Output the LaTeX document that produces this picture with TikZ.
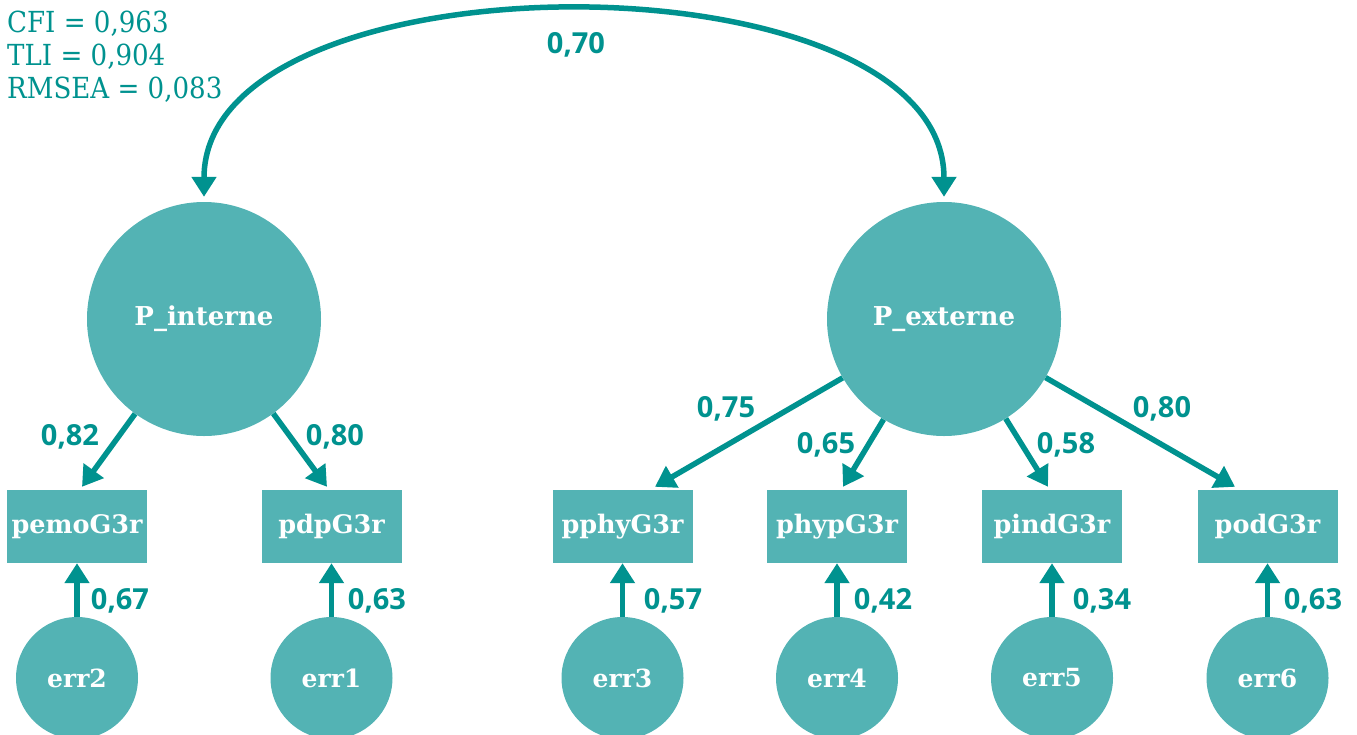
\documentclass[tikz,border=0pt]{standalone}
\usepackage{fontspec}
\setmainfont{DejaVu Serif}
\newfontfamily\numfont{Open Sans}
\newfontfamily\fitfont{DejaVu Serif Condensed}
\usetikzlibrary{arrows.meta}
\definecolor{fillc}{HTML}{53B3B4}
\definecolor{darkc}{HTML}{00928F}
\begin{document}
\begin{tikzpicture}[x=1pt,y=-1pt,
  latent/.style={circle,fill=fillc,minimum size=234pt,inner sep=0pt,text=white,font=\bfseries\fontsize{26}{30}\selectfont},
  errc/.style={circle,fill=fillc,minimum size=122pt,inner sep=0pt,text=white,font=\bfseries\fontsize{25}{30}\selectfont},
  obs/.style={rectangle,fill=fillc,minimum width=140pt,minimum height=73pt,inner sep=0pt,text=white,font=\bfseries\fontsize{25.5}{30}\selectfont},
  arr/.style={draw=darkc,line width=5.5pt,-{Triangle[length=20pt,width=24pt]}},
  darr/.style={draw=darkc,line width=5.5pt,{Triangle[length=20pt,width=24pt]}-{Triangle[length=20pt,width=24pt]}},
  lab/.style={text=darkc,anchor=base,inner sep=0pt,font=\numfont\bfseries\fontsize{29}{30}\selectfont},
  fit/.style={text=darkc,anchor=base west,inner sep=0pt,font=\fitfont\fontsize{29}{30}\selectfont}
]
\useasboundingbox (0,0) rectangle (1357,734);

% fit indices
\node[fit] (cfi) at (7,32) {CFI = 0,963};
\node[fit] (tli) at (7,65) {TLI = 0,904};
\node[fit] (rmsea) at (7,98) {RMSEA = 0,083};

% latent variables
\node[latent] (Pi) at (204,319) {P\_interne};
\node[latent] (Pe) at (944,319) {P\_externe};

% observed variables
\node[obs] (pemo) at (77,526.5) {pemoG3r};
\node[obs] (pdp) at (331.5,526.5) {pdpG3r};
\node[obs] (pphy) at (622.5,526.5) {pphyG3r};
\node[obs] (phyp) at (837,526.5) {phypG3r};
\node[obs] (pind) at (1052,526.5) {pindG3r};
\node[obs] (pod) at (1267.5,526.5) {podG3r};

% error terms
\node[errc] (e2) at (77,678) {err2};
\node[errc] (e1) at (331.5,678) {err1};
\node[errc] (e3) at (622.5,678) {err3};
\node[errc] (e4) at (837,678) {err4};
\node[errc] (e5) at (1052,678) {err5};
\node[errc] (e6) at (1267.5,678) {err6};

% covariance
\draw[darr] ([yshift=5pt]Pi.north) .. controls +(0,-247) and +(0,-247) .. ([yshift=5pt]Pe.north);
\node[lab] (c) at (576,53) {0,70};

% loadings
\draw[arr] (Pi) -- ([xshift=5pt,yshift=3pt]pemo.north);
\draw[arr] (Pi) -- ([xshift=-4.5pt,yshift=3pt]pdp.north);
\draw[arr] (Pe) -- ([xshift=32.5pt,yshift=3pt]pphy.north);
\draw[arr] (Pe) -- ([xshift=6pt,yshift=3pt]phyp.north);
\draw[arr] (Pe) -- ([xshift=-4pt,yshift=3pt]pind.north);
\draw[arr] (Pe) -- ([xshift=-32.5pt,yshift=3pt]pod.north);

\node[lab] (l1) at (70,445) {0,82};
\node[lab] (l2) at (335,445) {0,80};
\node[lab] (l3) at (726,417) {0,75};
\node[lab] (l4) at (826,453) {0,65};
\node[lab] (l5) at (1066,453) {0,58};
\node[lab] (l6) at (1162,417) {0,80};

% error paths
\draw[arr] (e2) -- (pemo);
\draw[arr] (e1) -- (pdp);
\draw[arr] (e3) -- (pphy);
\draw[arr] (e4) -- (phyp);
\draw[arr] (e5) -- (pind);
\draw[arr] (e6) -- (pod);

\node[lab] (m1) at (120,609) {0,67};
\node[lab] (m2) at (377,609) {0,63};
\node[lab] (m3) at (673,609) {0,57};
\node[lab] (m4) at (883,609) {0,42};
\node[lab] (m5) at (1102,609) {0,34};
\node[lab] (m6) at (1313,609) {0,63};
\end{tikzpicture}
\end{document}
